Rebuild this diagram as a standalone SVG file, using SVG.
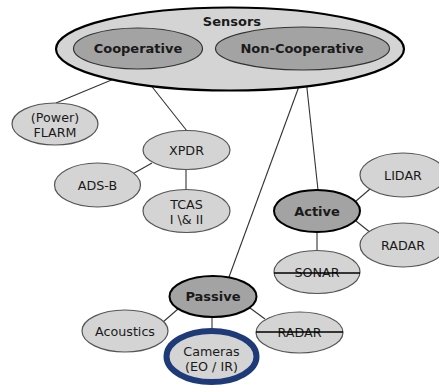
<svg xmlns="http://www.w3.org/2000/svg" width="439" height="385" viewBox="0 0 439 385">
  <defs>
    <style>
      .lbl { font-family: "DejaVu Sans", "Liberation Sans", sans-serif; font-size: 12.7px; fill: #1a1a1a; text-anchor: middle; }
      .bold { font-weight: bold; font-size: 13px; }
      .leaf { fill: #d4d4d4; stroke: #555; stroke-width: 1.2; }
      .group { fill: #a3a3a3; stroke: #333; stroke-width: 1.2; }
      .hub { fill: #a3a3a3; stroke: #000; stroke-width: 2; }
      .root { fill: #d4d4d4; stroke: #000; stroke-width: 2.2; }
      .edge { stroke: #333; stroke-width: 1.1; fill: none; }
      .strike { stroke: #000; stroke-width: 1.4; }
      .focus { fill: #d4d4d4; stroke: #1f3a78; stroke-width: 6; }
    </style>
  </defs>

  <!-- connectors -->
  <g id="connectors">
    <line class="edge" x1="138" y1="69" x2="56" y2="103"/>
    <line class="edge" x1="138" y1="69" x2="187" y2="131"/>
    <line class="edge" x1="305" y1="70" x2="229" y2="277"/>
    <line class="edge" x1="305" y1="70" x2="318" y2="190"/>
    <line class="edge" x1="152" y1="163" x2="129" y2="176"/>
    <line class="edge" x1="186" y1="168" x2="186" y2="190"/>
    <line class="edge" x1="356" y1="201" x2="370" y2="189"/>
    <line class="edge" x1="356" y1="221" x2="371" y2="233"/>
    <line class="edge" x1="317" y1="232" x2="317" y2="251"/>
    <line class="edge" x1="178" y1="309" x2="163" y2="322"/>
    <line class="edge" x1="212" y1="317" x2="212" y2="330"/>
    <line class="edge" x1="250" y1="308" x2="265" y2="319"/>
  </g>

  <!-- sensor taxonomy root -->
  <g id="sensors">
    <ellipse class="root" cx="230" cy="49" rx="174" ry="41.5"/>
    <text class="lbl bold" x="232" y="26">Sensors</text>
  </g>
  <g id="cooperative">
    <ellipse class="group" cx="138" cy="48.5" rx="64.5" ry="20.5"/>
    <text class="lbl bold" x="138" y="53">Cooperative</text>
  </g>
  <g id="non-cooperative">
    <ellipse class="group" cx="302.5" cy="48.5" rx="87" ry="21.5"/>
    <text class="lbl bold" x="302" y="53">Non-Cooperative</text>
  </g>

  <!-- cooperative branch -->
  <g id="flarm">
    <ellipse class="leaf" cx="55" cy="124" rx="43" ry="21"/>
    <text class="lbl" x="55" y="122">(Power)</text>
    <text class="lbl" x="55" y="137">FLARM</text>
  </g>
  <g id="xpdr">
    <ellipse class="leaf" cx="186.5" cy="150" rx="43.5" ry="19.5"/>
    <text class="lbl" x="186.5" y="155">XPDR</text>
  </g>
  <g id="ads-b">
    <ellipse class="leaf" cx="97.5" cy="185" rx="43" ry="22"/>
    <text class="lbl" x="97.5" y="190">ADS-B</text>
  </g>
  <g id="tcas">
    <ellipse class="leaf" cx="186.5" cy="211" rx="43.5" ry="21.5"/>
    <text class="lbl" x="186.5" y="209">TCAS</text>
    <text class="lbl" x="186.5" y="224">I \&amp; II</text>
  </g>

  <!-- active branch -->
  <g id="active">
    <ellipse class="hub" cx="317" cy="211" rx="43" ry="21"/>
    <text class="lbl bold" x="317" y="215.5">Active</text>
  </g>
  <g id="lidar">
    <ellipse class="leaf" cx="403" cy="175" rx="43" ry="22"/>
    <text class="lbl" x="403" y="180">LIDAR</text>
  </g>
  <g id="radar-active">
    <ellipse class="leaf" cx="403" cy="245" rx="43" ry="22"/>
    <text class="lbl" x="403" y="250">RADAR</text>
  </g>
  <g id="sonar">
    <ellipse class="leaf" cx="317" cy="272" rx="43" ry="21.5"/>
    <text class="lbl" x="317" y="277">SONAR</text>
    <line class="strike" x1="274" y1="273" x2="360" y2="273"/>
  </g>

  <!-- passive branch -->
  <g id="passive">
    <ellipse class="hub" cx="213" cy="296.5" rx="43.5" ry="20.5"/>
    <text class="lbl bold" x="213" y="301">Passive</text>
  </g>
  <g id="acoustics">
    <ellipse class="leaf" cx="125" cy="331" rx="43" ry="21"/>
    <text class="lbl" x="125" y="336">Acoustics</text>
  </g>
  <g id="radar-passive">
    <ellipse class="leaf" cx="299.5" cy="332.5" rx="43.5" ry="20.5"/>
    <text class="lbl" x="299.5" y="337">RADAR</text>
    <line class="strike" x1="256" y1="332" x2="343" y2="332"/>
  </g>
  <g id="cameras">
    <ellipse class="focus" cx="211.5" cy="356.5" rx="45" ry="25.5"/>
    <text class="lbl" x="211.5" y="356">Cameras</text>
    <text class="lbl" x="211.5" y="371">(EO / IR)</text>
  </g>
</svg>
